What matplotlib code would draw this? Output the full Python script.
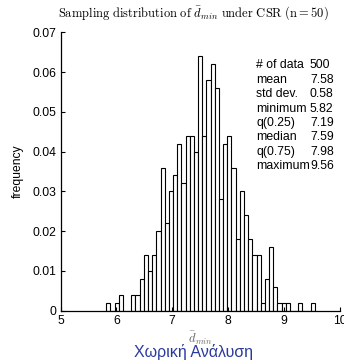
import numpy as np
import matplotlib
matplotlib.use("Agg")
import matplotlib.pyplot as plt

# ---- data ----
counts = [1, 0, 1, 2, 0, 0, 2, 2, 4, 7,
          5, 7, 10, 18, 11, 15, 17, 21, 16, 22,
          22, 20, 32, 22, 29, 31, 28, 14, 21, 22,
          18, 9, 15, 12, 9, 7, 7, 1, 4, 8,
          3, 1, 1, 1, 0, 0, 1, 0, 0, 1]
n_data = 500
data_min = 5.82
data_max = 9.56
stat_labels = ["# of data", "mean", "std dev.", "minimum", "q(0.25)", "median", "q(0.75)", "maximum"]
stat_values = ["500", "7.58", "0.58", "5.82", "7.19", "7.59", "7.98", "9.56"]
x_ticks = [5, 6, 7, 8, 9, 10]
y_ticks = [0, 0.01, 0.02, 0.03, 0.04, 0.05, 0.06, 0.07]

plt.rcParams['mathtext.fontset'] = 'cm'
plt.rcParams['font.family'] = ['Liberation Sans', 'DejaVu Sans']

edges = np.linspace(data_min, data_max, len(counts) + 1)
freqs = np.array(counts) / n_data

fig = plt.figure(figsize=(3.44, 3.61), dpi=100)
ax = fig.add_axes([60.5 / 344, 1 - 310.7 / 361, (339.5 - 60.5) / 344, (310.7 - 32.3) / 361])

ax.bar(edges[:-1], freqs, width=np.diff(edges), align='edge',
       color='white', edgecolor='black', linewidth=0.8)

ax.set_xlim(5, 10)
ax.set_ylim(0, 0.07)
ax.set_xticks(x_ticks)
ax.set_yticks(y_ticks)
ax.set_xticklabels([str(t) for t in x_ticks])
ax.set_yticklabels(["0"] + ["%.2f" % t for t in y_ticks[1:]])
ax.tick_params(direction='in', length=3, width=0.8, labelsize=8.7, pad=3)
for s in ['top', 'right']:
    ax.spines[s].set_visible(False)
for s in ['left', 'bottom']:
    ax.spines[s].set_linewidth(0.9)

ax.set_ylabel("frequency", fontsize=8.7, labelpad=6)
ax.set_xlabel(r"$\bar{d}_{min}$", fontsize=9, color='#666666', labelpad=2)

fig.text(193 / 344, 1 - 13 / 361, r"$\mathrm{Sampling\ distribution\ of\ }\bar{d}_{min}\mathrm{\ under\ CSR\ (n{=}50)}$",
         ha='center', va='center', fontsize=9)

# stats table
row_y = [65, 80, 94.3, 108.6, 123, 137.5, 152, 166.5]
for lab, val, y in zip(stat_labels, stat_values, row_y):
    fig.text(256.5 / 344, 1 - y / 361, lab, ha='left', va='center', fontsize=8.8)
    fig.text(310 / 344, 1 - y / 361, val, ha='left', va='center', fontsize=8.8)

fig.text(193 / 344, 1 - 352 / 361, "Χωρική Ανάλυση", ha='center', va='center',
         fontsize=11.5, color='#2b3a9e')

fig.savefig("out.png", dpi=100)
